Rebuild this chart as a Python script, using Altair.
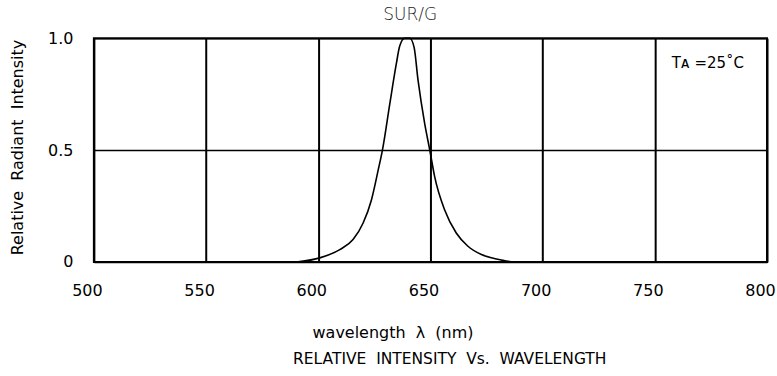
import altair as alt
import pandas as pd

wavelength = [591, 600.7, 609.6, 615.5, 620, 623.7, 626.7, 628.6, 631.9, 634.8, 636.3,
              638.5, 640.8, 642.7, 644.5, 647.4, 649.7, 651.9, 656.3, 661.5, 666.7,
              672.7, 680, 686]
intensity = [0, 0.018, 0.055, 0.10, 0.174, 0.277, 0.41, 0.5, 0.708, 0.886, 0.965,
             1.0, 1.0, 0.96, 0.81, 0.62, 0.5, 0.38, 0.233, 0.129, 0.07,
             0.033, 0.012, 0]

x_ticks = [500, 550, 600, 650, 700, 750, 800]
y_ticks = [0, 0.5, 1.0]

S2 = "\u00a0 "  # visible double space
title_text = "SUR/G"
x_title = "wavelength" + S2 + "\u03bb" + S2 + "(nm)"
y_title = "Relative" + S2 + "Radiant" + S2 + "Intensity"
bottom_text = "RELATIVE" + S2 + "INTENSITY" + S2 + "Vs." + S2 + "WAVELENGTH"
annot_text = "T\u1d00 =25\u02daC"

FONT = "DejaVu Sans"

df = pd.DataFrame({"wavelength": wavelength, "intensity": intensity})

x_enc = alt.X(
    "wavelength:Q",
    scale=alt.Scale(domain=[500, 800], nice=False, zero=False),
    axis=alt.Axis(
        values=x_ticks, title=x_title, grid=True, gridColor="black", gridWidth=2,
        gridOpacity=1, domain=False, ticks=False, labelPadding=21, labelFontSize=16,
        labelOffset=-7,
        labelFont=FONT, labelColor="black", titleFont=FONT, titleFontSize=16,
        titleFontWeight="normal", titleColor="black", titleX=299, titleY=71,
        titleAnchor="middle", titleAlign="center", titleBaseline="middle",
        labelFlush=False,
    ),
)
y_enc = alt.Y(
    "intensity:Q",
    scale=alt.Scale(domain=[0, 1], nice=False),
    axis=alt.Axis(
        values=y_ticks, title=y_title, grid=True, gridColor="black", gridWidth=1.6,
        gridOpacity=1, domain=False, ticks=False, labelPadding=21, labelFontSize=16,
        labelFont=FONT, labelColor="black", titleFont=FONT, titleFontSize=16,
        titleFontWeight="normal", titleColor="black", titleX=-76, titleY=109,
        titleAnchor="middle", titleAlign="center", titleBaseline="middle",
        labelExpr="datum.value == 0 ? '0' : format(datum.value, '.1f')",
        labelFlush=False,
    ),
)

curve = alt.Chart(df).mark_line(color="black", strokeWidth=1.6, interpolate="monotone").encode(
    x=x_enc, y=y_enc
)

ann_df = pd.DataFrame({
    "wavelength": [757.5, 658.6, 641],
    "intensity": [0.89, -0.435, 1.105],
    "label": [annot_text, bottom_text, title_text],
})

ann = (
    alt.Chart(ann_df.iloc[[0]]).mark_text(font=FONT, color="black", baseline="middle", align="left", fontSize=15, clip=False)
    .encode(x="wavelength:Q", y="intensity:Q", text="label:N")
    + alt.Chart(ann_df.iloc[[1]]).mark_text(font=FONT, color="black", baseline="middle", align="center", fontSize=15.5, clip=False)
    .encode(x="wavelength:Q", y="intensity:Q", text="label:N")
    + alt.Chart(ann_df.iloc[[2]]).mark_text(font=FONT, color="#222", baseline="middle", align="center", fontSize=17, fontWeight=300, clip=False)
    .encode(x="wavelength:Q", y="intensity:Q", text="label:N")
)

chart = (
    alt.layer(curve, ann)
    .properties(
        width=674, height=224,
        autosize=alt.AutoSizeParams(type="none"),
        padding={"left": 94, "top": 38, "right": 10, "bottom": 114},
        background="white",
    )
    .configure_view(stroke="black", strokeWidth=2)
)

chart.save("out.html", embed_options={"renderer": "svg", "actions": False})
